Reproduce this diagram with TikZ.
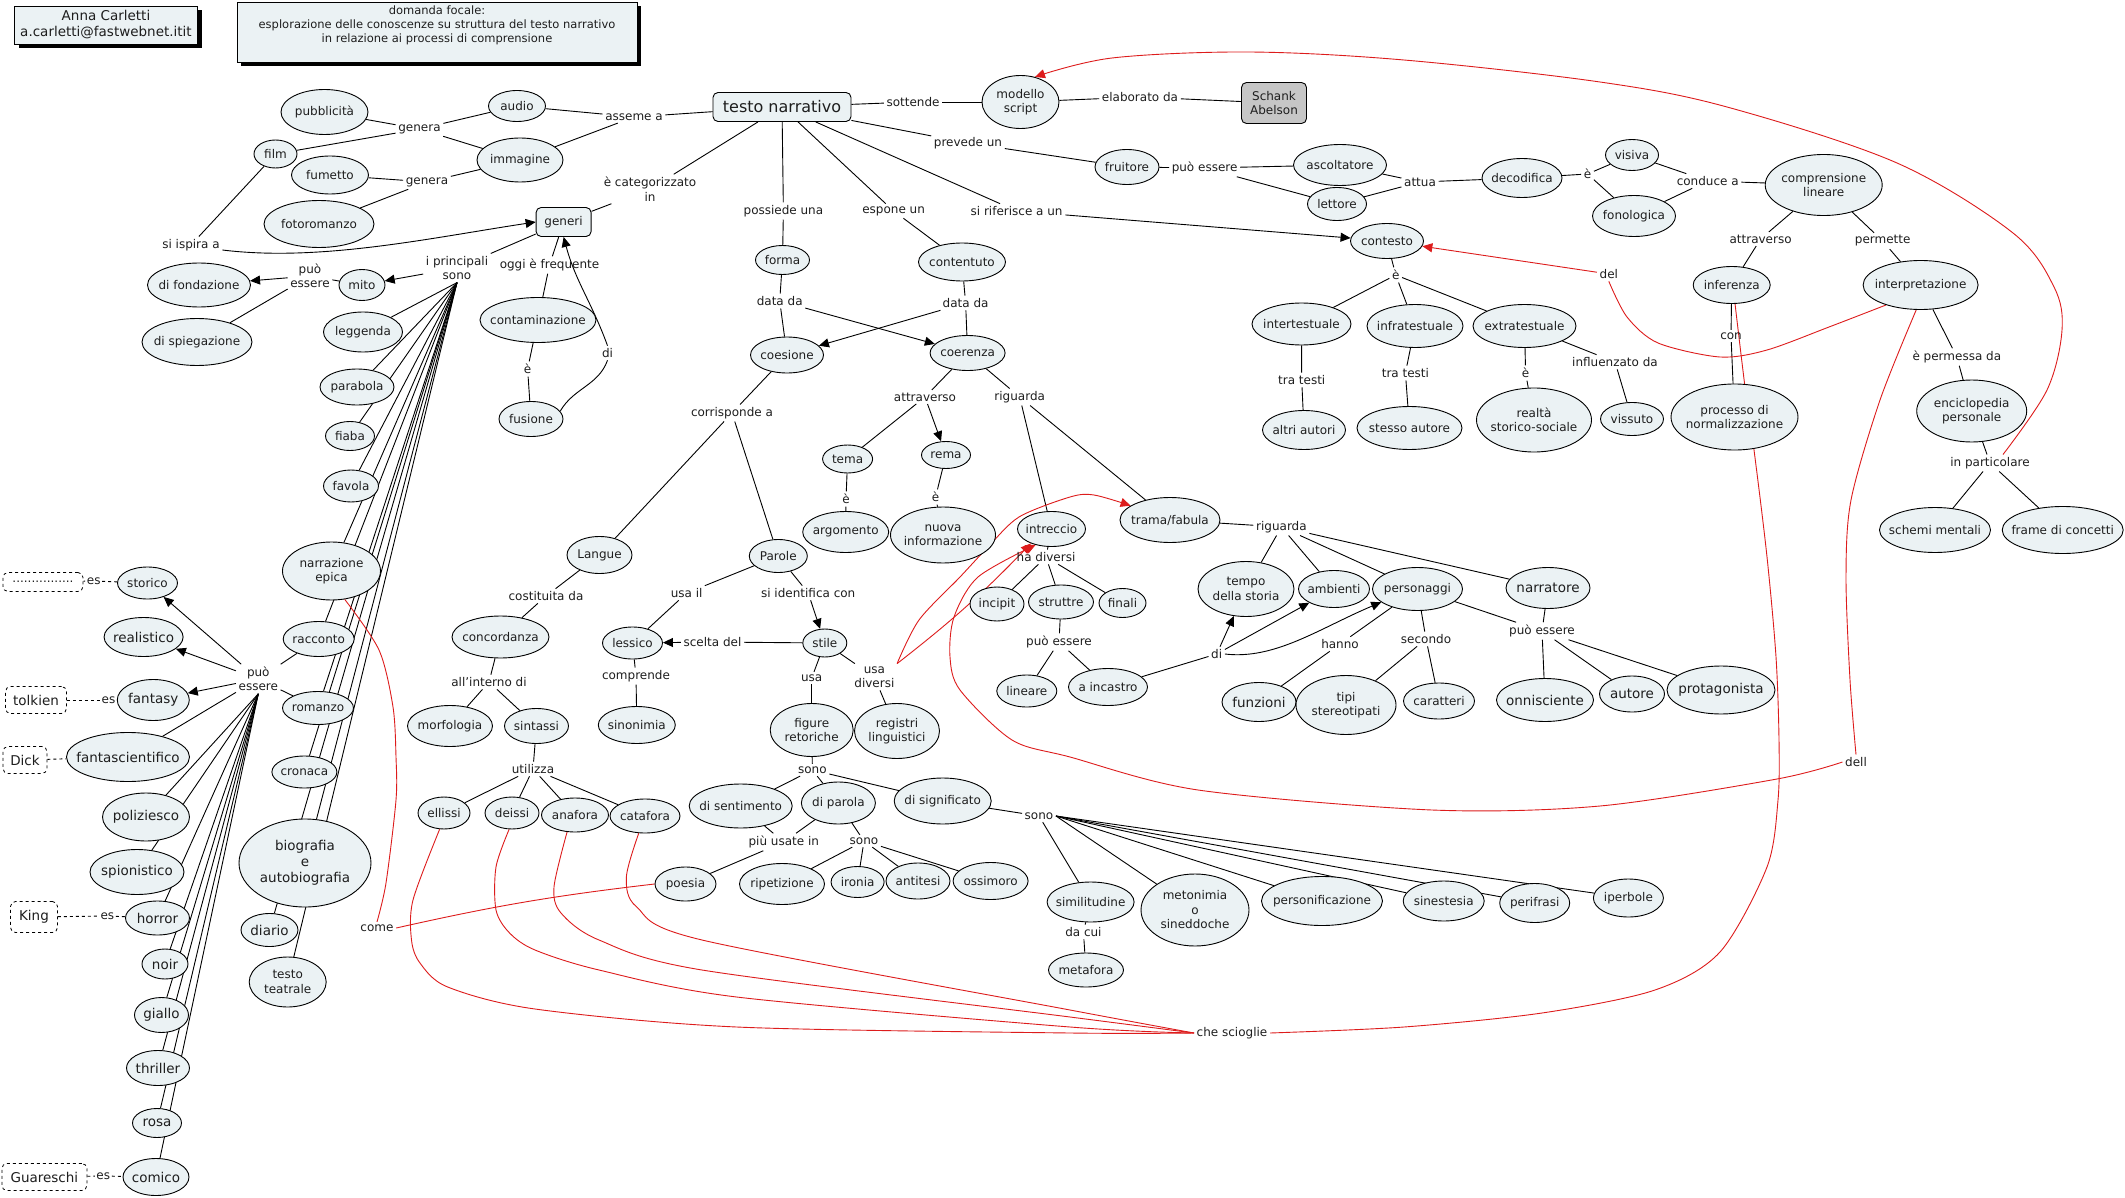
\documentclass[tikz,border=0pt]{standalone}
\usepackage{fontspec}
\setmainfont{DejaVu Sans}
\usetikzlibrary{shapes.geometric,arrows.meta,shadows}
\definecolor{cfill}{HTML}{EBF2F4}
\definecolor{sgray}{HTML}{C6C6C6}
\definecolor{rlink}{HTML}{DD1C1C}
\definecolor{tx}{HTML}{1E1E1E}
\newcommand\fsA{\fontsize{12}{14.5}\selectfont}
\newcommand\fsB{\fontsize{13.5}{16}\selectfont}
\newcommand\fsS{\fontsize{11.5}{14}\selectfont}
\newcommand\fsT{\fontsize{16}{18}\selectfont}
\pgfdeclarelayer{back}
\pgfdeclarelayer{bg}
\pgfsetlayers{back,bg,main}
\tikzset{
  cbase/.style 2 args={ellipse, draw=black, line width=0.9pt, fill=cfill, minimum width=#1pt, minimum height=#2pt, inner sep=0pt},
  ctext/.style={font=\fsA, align=center, inner sep=0pt, text=tx},
  cn/.style n args={3}{cbase={#1}{#2}, label={[ctext]center:{#3}}},
  cnb/.style n args={3}{cbase={#1}{#2}, label={[ctext,font=\fsB]center:{#3}}},
  lk/.style={font=\fsA, align=center, inner sep=2.5pt, text=tx},
  rbox/.style={draw=black, line width=0.9pt, rounded corners=5pt, fill=cfill, inner sep=0pt, align=center, text=tx, font=\fsA},
  dbox/.style={draw=black, line width=0.8pt, dashed, rounded corners=5pt, fill=white, inner sep=0pt, font=\fsB, text=tx},
  topbox/.style={draw=black, line width=0.9pt, fill=cfill, inner sep=0pt, align=center, text=tx, drop shadow={shadow xshift=4pt, shadow yshift=-4pt, opacity=1, fill=black}},
  ln/.style={draw=black, line width=0.9pt},
  ar/.style={ln, -{Triangle[length=10pt,width=9pt]}},
  dl/.style={ln, dashed},
  rl/.style={draw=rlink, line width=0.9pt},
  rar/.style={rl, -{Triangle[length=10pt,width=9pt]}},
}
\begin{document}
\begin{tikzpicture}[x=1pt,y=-1pt]
\begin{pgfonlayer}{back}
\fill[white] (0,0) rectangle (2125,1198);
\end{pgfonlayer}
\useasboundingbox (0,0) rectangle (2125,1198);

% ---------- header boxes
\node[topbox, minimum width=183pt, minimum height=38pt, font=\fsB] (auth) at (106,25) {Anna Carletti\\a.carletti@fastwebnet.itit};
\node[topbox, minimum width=400pt, minimum height=60pt] (focal) at (437,32) {};
\node[lk, font=\fsS] (focaltxt) at (437,25) {domanda focale:\\esplorazione delle conoscenze su struttura del testo narrativo\\in relazione ai processi di comprensione};

% ---------- concepts
\node[rbox, minimum width=138pt, minimum height=29pt, font=\fsT] (testo) at (782,107) {testo narrativo};
\node[cn={77}{53}{modello\\script}] (modello) at (1020.5,102) {};
\node[rbox, fill=sgray, minimum width=65pt, minimum height=41pt] (schank) at (1274,103) {Schank\\Abelson};
\node[cn={87}{45}{pubblicità}] (pubbl) at (324.5,112) {};
\node[cn={57}{31}{audio}] (audio) at (517,106) {};
\node[cn={86}{44}{immagine}] (immag) at (520,160) {};
\node[cn={43}{28}{film}] (film) at (275.5,154) {};
\node[cn={77}{38}{fumetto}] (fumet) at (330,175) {};
\node[cn={110}{47}{fotoromanzo}] (fotor) at (319,224) {};
\node[rbox, minimum width=55pt, minimum height=29pt] (generi) at (563.6,222) {generi};
\node[cn={103}{44}{di fondazione}] (fond) at (199,285) {};
\node[cn={46}{31}{mito}] (mito) at (362,285) {};
\node[cn={110}{47}{di spiegazione}] (spieg) at (197,342) {};
\node[cn={79}{40}{leggenda}] (legg) at (363,332) {};
\node[cn={116}{45}{contaminazione}] (contam) at (538,320) {};
\node[cn={74}{36}{parabola}] (parab) at (357,387) {};
\node[cn={64}{35}{fusione}] (fusione) at (531,419) {};
\node[cn={49}{29}{fiaba}] (fiaba) at (350,436) {};
\node[cn={55}{32}{favola}] (favola) at (351,486) {};
\node[cn={98}{58}{narrazione\\epica}] (narrep) at (331.5,571) {};
\node[cn={71}{35}{racconto}] (racc) at (318.7,639) {};
\node[cn={71}{33}{romanzo}] (romanzo) at (318,708) {};
\node[cn={65}{32}{cronaca}] (cronaca) at (304.4,772) {};
\node[cnb={132}{88}{biografia\\e\\autobiografia}] (biog) at (305,863) {};
\node[cnb={57}{33}{diario}] (diario) at (269.5,930) {};
\node[cn={77}{50}{testo\\teatrale}] (teatr) at (287.7,982) {};

\node[cn={60}{32}{storico}] (storico) at (147.5,583) {};
\node[cnb={79}{39}{realistico}] (realistico) at (143.6,637) {};
\node[cnb={72}{41}{fantasy}] (fantasy) at (153.3,700) {};
\node[cnb={123}{49}{fantascientifico}] (fantasc) at (128,757) {};
\node[cnb={87}{48}{poliziesco}] (polizi) at (146,817) {};
\node[cnb={94}{45}{spionistico}] (spion) at (137,872) {};
\node[cnb={64}{34}{horror}] (horror) at (157.5,918) {};
\node[cnb={46}{30}{noir}] (noir) at (165,964) {};
\node[cnb={54}{35}{giallo}] (giallo) at (161.5,1015) {};
\node[cnb={63}{35}{thriller}] (thriller) at (158,1068) {};
\node[cnb={49}{29}{rosa}] (rosa) at (157,1123) {};
\node[cnb={66}{37}{comico}] (comico) at (156,1177) {};

\node[dbox, minimum width=80pt, minimum height=19pt, font=\fsA] (dots) at (43,582) {................};
\node[dbox, minimum width=61pt, minimum height=27pt] (tolkien) at (36,700) {tolkien};
\node[dbox, minimum width=44pt, minimum height=27pt] (dick) at (25,760) {Dick};
\node[dbox, minimum width=47pt, minimum height=31pt] (king) at (34,917) {King};
\node[dbox, minimum width=85pt, minimum height=27pt] (guar) at (44.4,1177) {Guareschi};

\node[cn={54}{29}{forma}] (forma) at (782.5,260) {};
\node[cn={87}{38}{contentuto}] (contenuto) at (962,262) {};
\node[cn={73}{36}{coesione}] (coesione) at (787,355) {};
\node[cn={75}{35}{coerenza}] (coerenza) at (967.6,353) {};
\node[cn={50}{28}{tema}] (tema) at (847.6,459) {};
\node[cn={49}{27}{rema}] (rema) at (946,455) {};
\node[cn={86}{41}{argomento}] (argom) at (845.7,532) {};
\node[cn={105}{56}{nuova\\informazione}] (nuova) at (943,535) {};
\node[cn={65}{37}{Langue}] (langue) at (599.5,555) {};
\node[cn={58}{33}{Parole}] (parole) at (778.3,556) {};
\node[cn={97}{42}{concordanza}] (concord) at (500.5,637) {};
\node[cn={85}{41}{morfologia}] (morfo) at (450,726) {};
\node[cn={64}{35}{sintassi}] (sintassi) at (536.5,726) {};
\node[cn={52}{32}{ellissi}] (ellissi) at (444,813) {};
\node[cn={54}{32}{deissi}] (deissi) at (512,813) {};
\node[cn={67}{34}{anafora}] (anafora) at (575,815) {};
\node[cn={70}{34}{catafora}] (catafora) at (645,816) {};
\node[cn={60}{32}{lessico}] (lessico) at (632.5,643) {};
\node[cn={77}{37}{sinonimia}] (sinon) at (636.8,725) {};
\node[cn={44}{28}{stile}] (stile) at (824.8,643) {};
\node[cn={83}{53}{figure\\retoriche}] (figure) at (811.7,730) {};
\node[cn={85}{55}{registri\\linguistici}] (registri) at (897,731) {};
\node[cn={103}{44}{di sentimento}] (sentim) at (740.7,806) {};
\node[cn={74}{42}{di parola}] (diparola) at (838.4,803) {};
\node[cn={97}{46}{di significato}] (signif) at (942.7,801) {};
\node[cn={61}{34}{poesia}] (poesia) at (685.5,884) {};
\node[cn={85}{41}{ripetizione}] (ripet) at (782,884) {};
\node[cn={53}{31}{ironia}] (ironia) at (857.6,882) {};
\node[cn={64}{36}{antitesi}] (antit) at (918,881) {};
\node[cn={75}{37}{ossimoro}] (ossim) at (990.6,881) {};
\node[cn={87}{40}{similitudine}] (simil) at (1090.6,902) {};
\node[cn={75}{34}{metafora}] (metaf) at (1086,970) {};
\node[cn={108}{72}{metonimia\\o\\sineddoche}] (meton) at (1195,910) {};
\node[cn={121}{49}{personificazione}] (person) at (1322,901) {};
\node[cn={81}{40}{sinestesia}] (sinest) at (1443.7,901) {};
\node[cn={70}{39}{perifrasi}] (perifr) at (1534.7,903) {};
\node[cn={70}{38}{iperbole}] (iperb) at (1628.4,898) {};

\node[cn={64}{35}{fruitore}] (fruit) at (1127,167) {};
\node[cn={93}{41}{ascoltatore}] (ascolt) at (1340,165) {};
\node[cn={59}{33}{lettore}] (lettore) at (1337,204) {};
\node[cn={80}{39}{decodifica}] (decod) at (1522,178) {};
\node[cn={53}{31}{visiva}] (visiva) at (1632,155) {};
\node[cn={83}{41}{fonologica}] (fonol) at (1634,216) {};
\node[cn={117}{61}{comprensione\\lineare}] (compr) at (1823.7,185) {};
\node[cn={77}{37}{inferenza}] (infer) at (1731.7,285) {};
\node[cn={115}{49}{interpretazione}] (interp) at (1920.6,285) {};
\node[cn={73}{35}{contesto}] (contesto) at (1387,241) {};
\node[cn={99}{42}{intertestuale}] (intert) at (1301.5,324) {};
\node[cn={96}{43}{infratestuale}] (infrat) at (1415,326) {};
\node[cn={103}{43}{extratestuale}] (extrat) at (1524.5,326) {};
\node[cn={83}{39}{altri autori}] (altri) at (1304,430) {};
\node[cn={105}{43}{stesso autore}] (stesso) at (1409.5,428) {};
\node[cn={115}{64}{realtà\\storico-sociale}] (realta) at (1534,420) {};
\node[cn={63}{33}{vissuto}] (vissuto) at (1632,419) {};
\node[cn={127}{66}{processo di\\normalizzazione}] (process) at (1734.5,417) {};
\node[cn={110}{62}{enciclopedia\\personale}] (encicl) at (1971.7,411) {};
\node[cn={111}{45}{schemi mentali}] (schemi) at (1935,530) {};
\node[cn={121}{47}{frame di concetti}] (frame) at (2062.7,530) {};

\node[cn={68}{35}{intreccio}] (intrec) at (1051.5,529) {};
\node[cn={100}{45}{trama/fabula}] (trama) at (1170,520) {};
\node[cn={54}{34}{incipit}] (incipit) at (997,604) {};
\node[cn={65}{34}{struttre}] (strutt) at (1061,602) {};
\node[cn={47}{29}{finali}] (finali) at (1122.5,603) {};
\node[cn={60}{32}{lineare}] (lineare) at (1026.8,691) {};
\node[cn={79}{37}{a incastro}] (incastro) at (1108,687) {};
\node[cn={96}{55}{tempo\\della storia}] (tempo) at (1246,589) {};
\node[cn={71}{37}{ambienti}] (ambienti) at (1334,589) {};
\node[cn={90}{43}{personaggi}] (personag) at (1417.5,589) {};
\node[cnb={84}{41}{narratore}] (narrat) at (1548,588) {};
\node[cnb={74}{39}{funzioni}] (funz) at (1259,702) {};
\node[cn={100}{59}{tipi\\stereotipati}] (tipi) at (1346,705) {};
\node[cn={71}{36}{caratteri}] (caratt) at (1439,701) {};
\node[cnb={97}{43}{onnisciente}] (onnisc) at (1545,700) {};
\node[cnb={65}{36}{autore}] (autore) at (1632,694) {};
\node[cnb={108}{48}{protagonista}] (protag) at (1721,690) {};

% ---------- linking phrases
\node[lk] (gen1) at (419.5,129) {genera};
\node[lk] (gen2) at (427,182) {genera};
\node[lk] (asseme) at (634,117) {asseme a};
\node[lk] (sispira) at (191,245) {si ispira a};
\node[lk] (ipr) at (457,268) {i principali\\sono};
\node[lk] (oggi) at (549.5,265) {oggi è frequente};
\node[lk] (puo1) at (310,276) {può\\essere};
\node[lk] (e1) at (527.6,369) {è};
\node[lk] (di1) at (607.5,353) {di};
\node[lk] (ecat) at (650,189) {è categorizzato\\in};
\node[lk] (possiede) at (783.4,211) {possiede una};
\node[lk] (espone) at (893.6,211) {espone un};
\node[lk] (siriferisce) at (1016.6,211) {si riferisce a un};
\node[lk] (sottende) at (913,102) {sottende};
\node[lk] (elab) at (1140,97) {elaborato da};
\node[lk] (prevede) at (968,143) {prevede un};
\node[lk] (datal) at (779.7,301) {data da};
\node[lk] (datar) at (965.6,303) {data da};
\node[lk] (attr1) at (925,397) {attraverso};
\node[lk] (rig1) at (1019.7,397) {riguarda};
\node[lk] (corr) at (732,413) {corrisponde a};
\node[lk] (e2) at (846,499) {è};
\node[lk] (e3) at (935.6,497) {è};
\node[lk] (cost) at (546,596) {costituita da};
\node[lk] (allint) at (489,682) {all'interno di};
\node[lk] (util) at (533,769) {utilizza};
\node[lk] (usail) at (686.7,593) {usa il};
\node[lk] (siid) at (808.2,593) {si identifica con};
\node[lk] (scelta) at (712.5,642) {scelta del};
\node[lk] (compr2) at (636,676) {comprende};
\node[lk] (usa) at (811.7,678) {usa};
\node[lk] (usadiv) at (874.4,677) {usa\\diversi};
\node[lk] (sono1) at (812.4,770) {sono};
\node[lk] (piu) at (783.8,842) {più usate in};
\node[lk] (sono2) at (864,841) {sono};
\node[lk] (sono3) at (1039,816) {sono};
\node[lk] (dacui) at (1083.4,932) {da cui};
\node[lk] (come) at (377,928) {come};
\node[lk] (chesc) at (1232,1033) {che scioglie};
\node[lk] (puo2) at (258.3,679) {può\\essere};
\node[lk, inner sep=1.5pt] (es1) at (93.7,581) {es};
\node[lk, inner sep=1.5pt] (es2) at (108.5,700) {es};
\node[lk, inner sep=1.5pt] (es3) at (107.4,916) {es};
\node[lk, inner sep=1.5pt] (es4) at (103.3,1176) {es};
\node[lk] (puo3) at (1204.6,168) {può essere};
\node[lk] (attua) at (1420,182) {attua};
\node[lk] (e4) at (1587.5,174) {è};
\node[lk] (conduce) at (1707.7,181) {conduce a};
\node[lk] (attr2) at (1760.6,239) {attraverso};
\node[lk] (permette) at (1882.7,241) {permette};
\node[lk] (del) at (1608.8,274) {del};
\node[lk] (con) at (1731,336) {con};
\node[lk] (eperm) at (1956.8,357) {è permessa da};
\node[lk] (inpart) at (1990,463) {in particolare};
\node[lk] (dell) at (1856,762) {dell};
\node[lk] (e5) at (1395.7,275) {è};
\node[lk] (tra1) at (1301.7,380) {tra testi};
\node[lk] (tra2) at (1405.4,373) {tra testi};
\node[lk] (e6) at (1525.6,373) {è};
\node[lk] (infl) at (1615,362) {influenzato da};
\node[lk] (hadiv) at (1046,557) {ha diversi};
\node[lk] (puo4) at (1059,642) {può essere};
\node[lk] (di2) at (1216.7,654) {di};
\node[lk] (rig2) at (1281.4,527) {riguarda};
\node[lk] (hanno) at (1340,644) {hanno};
\node[lk] (secondo) at (1426,639) {secondo};
\node[lk] (puo5) at (1542,631) {può essere};

\coordinate (r1s) at ([xshift=13pt]inpart.north);

% ---------- connectors
\begin{pgfonlayer}{bg}
\foreach \a/\b in {pubbl/gen1, film/gen1, gen1/audio, gen1/immag, fumet/gen2, fotor/gen2, gen2/immag,
  audio/asseme, immag/asseme, asseme/testo, film/sispira, generi/ipr, mito/puo1, puo1/spieg,
  generi/oggi, oggi/contam, contam/e1, e1/fusione, testo/ecat, ecat/generi, testo/possiede,
  possiede/forma, testo/espone, espone/contenuto, testo/siriferisce, testo/sottende, sottende/modello,
  modello/elab, elab/schank, testo/prevede, prevede/fruit, forma/datal, datal/coesione,
  contenuto/datar, datar/coerenza, coesione/corr, corr/langue, corr/parole, coerenza/attr1,
  attr1/tema, coerenza/rig1, rig1/intrec, rig1/trama, tema/e2, e2/argom, rema/e3, e3/nuova,
  langue/cost, cost/concord, concord/allint, allint/morfo, allint/sintassi, sintassi/util,
  util/ellissi, util/deissi, util/anafora, util/catafora, parole/usail, usail/lessico, parole/siid,
  stile/scelta, lessico/compr2, compr2/sinon, stile/usa, usa/figure, stile/usadiv, usadiv/registri,
  figure/sono1, sono1/sentim, sono1/diparola, sono1/signif, sentim/piu, diparola/piu, piu/poesia,
  diparola/sono2, sono2/ripet, sono2/ironia, sono2/antit, sono2/ossim, signif/sono3, sono3/simil,
  simil/dacui, dacui/metaf, racc/puo2, romanzo/puo2, puo2/fantasc, fruit/puo3, puo3/ascolt,
  puo3/lettore, ascolt/attua, lettore/attua, attua/decod, decod/e4, e4/visiva, e4/fonol,
  visiva/conduce, fonol/conduce, conduce/compr, compr/attr2, attr2/infer, compr/permette,
  permette/interp, infer/con, con/process, interp/eperm, eperm/encicl, encicl/inpart,
  inpart/schemi, inpart/frame, contesto/e5, e5/intert, e5/infrat, e5/extrat, intert/tra1,
  tra1/altri, infrat/tra2, tra2/stesso, extrat/e6, e6/realta, extrat/infl, infl/vissuto,
  intrec/hadiv, hadiv/incipit, hadiv/strutt, hadiv/finali, strutt/puo4, puo4/lineare,
  puo4/incastro, incastro/di2, trama/rig2, rig2/tempo, rig2/ambienti, rig2/personag, rig2/narrat,
  personag/hanno, hanno/funz, personag/secondo, secondo/tipi, secondo/caratt, personag/puo5,
  narrat/puo5, puo5/onnisc, puo5/autore, puo5/protag}
  \draw[ln] (\a) -- (\b);

\foreach \a/\b in {ipr/mito, puo1/fond, siriferisce/contesto, datal/coerenza, datar/coesione,
  attr1/rema, siid/stile, scelta/lessico, puo2/storico, puo2/realistico, puo2/fantasy,
  di2/tempo, di2/ambienti}
  \draw[ar] (\a) -- (\b);

\foreach \t in {legg,parab,fiaba,favola,narrep,racc,romanzo,cronaca,biog,diario,teatr}
  \draw[ln] (ipr.south) -- (\t);
\foreach \t in {polizi,spion,horror,noir,giallo,thriller,rosa,comico}
  \draw[ln] (puo2.south) -- (\t);
\foreach \t in {meton,person,sinest,perifr,iperb}
  \draw[ln] (sono3.east) -- (\t);

\foreach \a/\b in {dots/es1, es1/storico, tolkien/es2, es2/fantasy, dick/fantasc, king/es3, es3/horror, guar/es4, es4/comico}
  \draw[dl] (\a) -- (\b);

\draw[ar] ([yshift=-5pt]sispira.east) .. controls (320,262) and (430,238) .. (generi.west);
\draw[ln] (fusione.15) to[out=60,in=-110] (di1.south);
\draw[ar] (di1.north) to[out=110,in=-75] (generi.south);
\draw[ar] (di2.east) .. controls (1275,660) and (1320,628) .. (personag.-160);

% red links
\draw[rar] plot[smooth, tension=0.55] coordinates {(r1s) (2047,390) (2062,330) (2054,287) (2013,233) (1897,163) (1727,107) (1600,82) (1404,60) (1249,52) (1112,58) (modello.60)};
\draw[rl] plot[smooth] coordinates {(interp.-150) (1829,327) (1767,350) (1720,357) (1658,343) (1627,317) (del.south)};
\draw[rar] (del) -- (contesto);
\draw[rl] plot[smooth] coordinates {(chesc.east) (1404,1027) (1542,1013) (1655,990) (1720,952) (1767,867) (1778,800) (1779,740) (1776,657) (1767,557) (1754,450) (1745,387) (infer.-80)};
\draw[rl] plot[smooth] coordinates {(interp.-100) (1880,400) (1851,500) (1846,577) (1850,680) (dell.north)};
\draw[rar] plot[smooth] coordinates {(dell.west) (1777,779) (1600,806) (1432,810) (1198,790) (1070,757) (1012,740) (960,690) (950,657) (954,617) (978,577) (intrec.-135)};
\draw[rar] (usadiv.north east) to[bend right=4] (intrec.-145);
\draw[rar] plot[smooth] coordinates {(usadiv.north east) (919,620) (960,577) (988,547) (1019,517) (1070,497) (1094,495) (trama.160)};
\draw[rl] plot[smooth] coordinates {(narrep.-65) (379,650) (393,707) (396,757) (396,800) (386,883) (come.north)};
\draw[rl] (come.east) to[bend left=3] (poesia.west);
\draw[rl] plot[smooth] coordinates {(ellissi.-105) (413,900) (411.5,940) (420,963) (447.7,987) (535,1009) (736.6,1027) (1070,1033) (chesc.west)};
\draw[rl] plot[smooth] coordinates {(deissi.-100) (496,867) (496,910) (509.6,933) (535,950) (599,970) (736.6,997) (1070,1027) (chesc.west)};
\draw[rl] plot[smooth] coordinates {(anafora.-115) (554,887) (561,913) (599,940) (702,970) (1070,1017) (chesc.west)};
\draw[rl] plot[smooth] coordinates {(catafora.-110) (626.4,877) (636.7,907) (702,940) (1070,1010) (chesc.west)};
\end{pgfonlayer}
\end{tikzpicture}
\end{document}
